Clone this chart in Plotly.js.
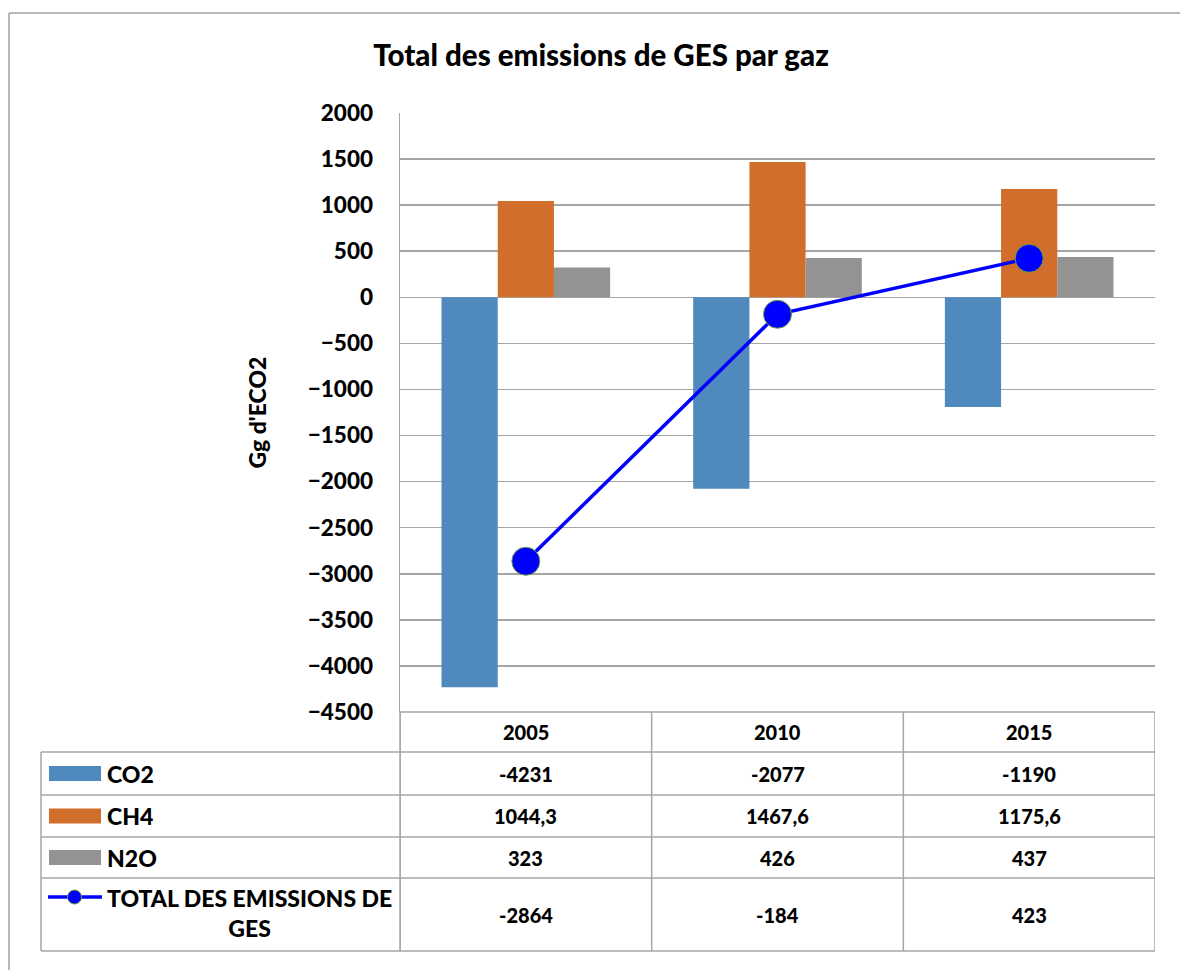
<!DOCTYPE html>
<html>
<head>
<meta charset="utf-8">
<script src="https://cdn.plot.ly/plotly-3.0.1.min.js"></script>
<style>html,body{margin:0;padding:0;background:#fff;}#chart{width:1180px;height:970px;}</style>
</head>
<body>
<div id="chart"></div>
<script>
// ---- data ----
const categories = ['2005', '2010', '2015'];
const co2 = [-4231, -2077, -1190];
const ch4 = [1044.3, 1467.6, 1175.6];
const n2o = [323, 426, 437];
const total = [-2864, -184, 423];
const seriesNames = ['CO2', 'CH4', 'N2O', 'TOTAL DES EMISSIONS DE<br>GES'];
const titleText = 'Total des emissions de GES par gaz';
const yTitle = "Gg d'ECO2";

// ---- styles ----
const colors = ['#4F89BD', '#D26E2B', '#939393', '#0000FF'];
const grid = '#A6A6A6';
const FONT = 'Lato, "Open Sans", sans-serif';
const W = 900;

// pixel -> paper helpers (layout only)
const L = 400, R = 1155, T = 113, B = 712;
const px = x => (x - L) / (R - L);
const py = y => (B - y) / (B - T);

const traces = [
  {type: 'bar', name: seriesNames[0], x: categories, y: co2, marker: {color: colors[0]}},
  {type: 'bar', name: seriesNames[1], x: categories, y: ch4, marker: {color: colors[1]}},
  {type: 'bar', name: seriesNames[2], x: categories, y: n2o, marker: {color: colors[2]}},
  {type: 'scatter', mode: 'lines+markers', name: seriesNames[3], x: categories, y: total,
   line: {color: colors[3], width: 3.5},
   marker: {color: colors[3], size: 28, line: {color: '#6E9E3C', width: 1}},
   cliponaxis: false}
];

// ---- data table (rows/borders) ----
const rowLines = [752, 795, 837, 878, 951];
const rowCenters = [773.5, 816, 857.5, 914.5];
const shapes = [];
const lineStyle = {color: grid, width: 1.5};
// outer chart border (top & left)
shapes.push({type: 'line', xref: 'paper', yref: 'paper', x0: px(9), x1: px(1185), y0: py(13), y1: py(13), line: {color: '#A0A0A0', width: 1.5}});
shapes.push({type: 'line', xref: 'paper', yref: 'paper', x0: px(9), x1: px(9), y0: py(13), y1: py(975), line: {color: '#A0A0A0', width: 1.5}});
// header top line
shapes.push({type: 'line', xref: 'paper', yref: 'paper', x0: 0, x1: 1, y0: 0, y1: 0, line: lineStyle});
rowLines.forEach(y => shapes.push({type: 'line', xref: 'paper', yref: 'paper', x0: px(41), x1: 1, y0: py(y), y1: py(y), line: lineStyle}));
// left table border
shapes.push({type: 'line', xref: 'paper', yref: 'paper', x0: px(41), x1: px(41), y0: py(752), y1: py(951), line: lineStyle});
// axis line extended into table
shapes.push({type: 'line', xref: 'paper', yref: 'paper', x0: 0, x1: 0, y0: 0, y1: py(951), line: lineStyle});
// column dividers at category boundaries
for (let i = 0; i <= categories.length; i++) {
  shapes.push({type: 'line', xref: 'x', yref: 'paper', x0: i - 0.5, x1: i - 0.5, y0: 0, y1: py(951), line: lineStyle});
}
// legend swatches
for (let i = 0; i < 3; i++) {
  shapes.push({type: 'rect', xref: 'paper', yref: 'paper', x0: px(49), x1: px(101),
    y0: py(rowCenters[i] + 7.5), y1: py(rowCenters[i] - 7.5), fillcolor: colors[i], line: {width: 0}});
}
const lineKeyY = 897;
shapes.push({type: 'line', xref: 'paper', yref: 'paper', x0: px(48), x1: px(102), y0: py(lineKeyY), y1: py(lineKeyY), line: {color: colors[3], width: 3.5}});
shapes.push({type: 'circle', xref: 'paper', yref: 'paper', xsizemode: 'pixel', ysizemode: 'pixel',
  xanchor: px(74.5), yanchor: py(lineKeyY), x0: -7, x1: 7, y0: -7, y1: 7,
  fillcolor: colors[3], line: {color: '#6E9E3C', width: 1}});

const annotations = [];
const tblFont = {family: FONT, size: 20, color: '#000', weight: W};
categories.forEach((c, i) => {
  annotations.push({xref: 'x', yref: 'paper', x: i, y: py(732), text: c, showarrow: false, font: tblFont, xanchor: 'center', yanchor: 'middle'});
});
const fmt = v => String(v).replace('.', ',');
[co2, ch4, n2o, total].forEach((arr, r) => {
  arr.forEach((v, i) => {
    annotations.push({xref: 'x', yref: 'paper', x: i, y: py(rowCenters[r]), text: fmt(v), showarrow: false, font: tblFont, xanchor: 'center', yanchor: 'middle'});
  });
});
const legFont = {family: FONT, size: 23, color: '#000', weight: W};
seriesNames.forEach((n, r) => {
  annotations.push({xref: 'paper', yref: 'paper', x: px(105), y: py(r === 3 ? 913 : rowCenters[r]), text: n, showarrow: false,
    font: legFont, xanchor: 'left', yanchor: 'middle', align: 'center'});
});

const layout = {
  width: 1180, height: 970,
  paper_bgcolor: '#fff', plot_bgcolor: '#fff',
  margin: {l: L, r: 1180 - R, t: T, b: 970 - B, pad: 0},
  showlegend: false,
  barmode: 'group', bargap: 0.33, bargroupgap: 0,
  font: {family: FONT, color: '#000'},
  title: {text: titleText, x: 601 / 1180, xanchor: 'center', xref: 'container', y: 1 - 56 / 970, yanchor: 'middle', yref: 'container',
    font: {family: FONT, size: 29.5, color: '#000', weight: W}},
  xaxis: {type: 'category', range: [-0.5, 2.5], showticklabels: false, showgrid: false, zeroline: false, showline: false, ticks: '', fixedrange: true},
  yaxis: {range: [-4500, 2000], tick0: 0, dtick: 500, showgrid: true, gridcolor: grid, gridwidth: 1.5,
    zeroline: true, zerolinecolor: grid, zerolinewidth: 1.5, showline: true, linecolor: grid, linewidth: 1.5,
    ticks: '', ticklabelstandoff: 21, tickfont: {family: FONT, size: 22.5, color: '#000', weight: W},
    title: {text: yTitle, standoff: 34, font: {family: FONT, size: 23, color: '#000', weight: W}}},
  shapes: shapes,
  annotations: annotations
};

Plotly.newPlot('chart', traces, layout, {displayModeBar: false, staticPlot: true});
</script>
</body>
</html>
